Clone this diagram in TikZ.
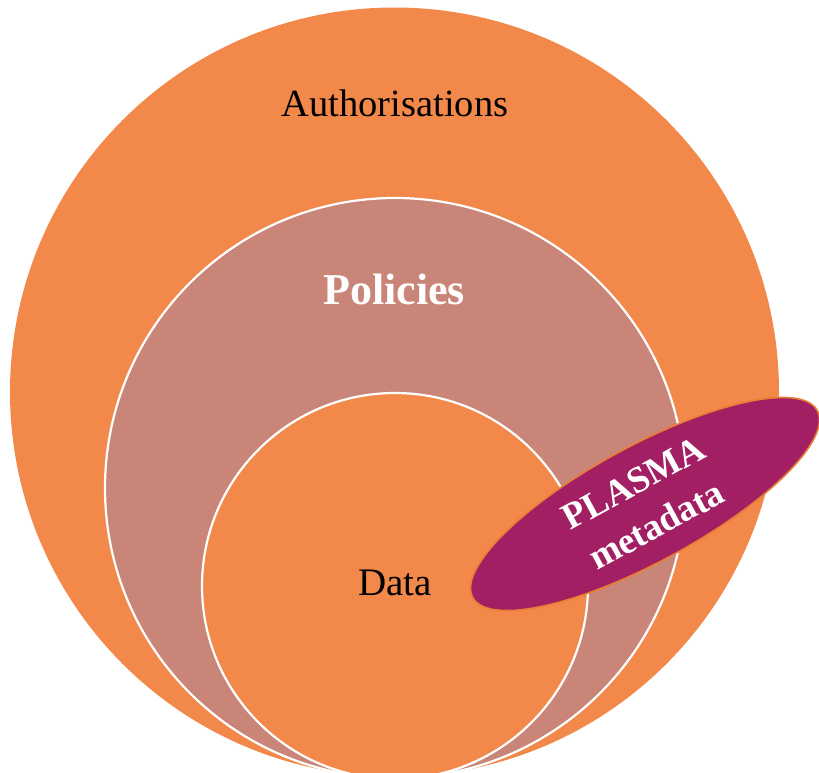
\documentclass[tikz,border=0pt]{standalone}
\usepackage{fontspec}
\setmainfont{Liberation Serif}
\usetikzlibrary{shapes.geometric}
\definecolor{orangeA}{HTML}{F2894A}
\definecolor{roseP}{HTML}{C98577}
\definecolor{plum}{HTML}{A21F64}
\definecolor{edgeO}{HTML}{E87D33}
\begin{document}
\begin{tikzpicture}[x=1pt,y=-1pt,
  ring/.style={circle,inner sep=0pt,draw=white,line width=2.2pt},
  lab/.style={inner sep=0pt,font=\fontsize{38.5}{44}\selectfont}]
\useasboundingbox (0,0) rectangle (819,773);
\node[circle,inner sep=0pt,fill=orangeA,minimum size=769pt] (auth) at (394.5,392) {};
\node[ring,fill=roseP,minimum size=580pt] (pol) at (395,488) {};
\node[ring,fill=orangeA,minimum size=386pt] (data) at (395,586) {};
\node[lab,text=black] (tauth) at (395,103) {Authorisations};
\node[lab,text=white,font=\fontsize{44}{48}\bfseries\selectfont] (tpol) at (394,289) {Policies};
\node[lab,text=black,font=\fontsize{39}{44}\selectfont] (tdata) at (395,583) {Data};
\node[ellipse,inner sep=0pt,fill=plum,draw=edgeO,line width=1.6pt,
  minimum width=392pt,minimum height=116pt,rotate=28.5,
  text=white,align=center,font=\fontsize{37}{48}\bfseries\selectfont] (plasma) at (645,504)
  {PLASMA\\metadata};
\end{tikzpicture}
\end{document}
